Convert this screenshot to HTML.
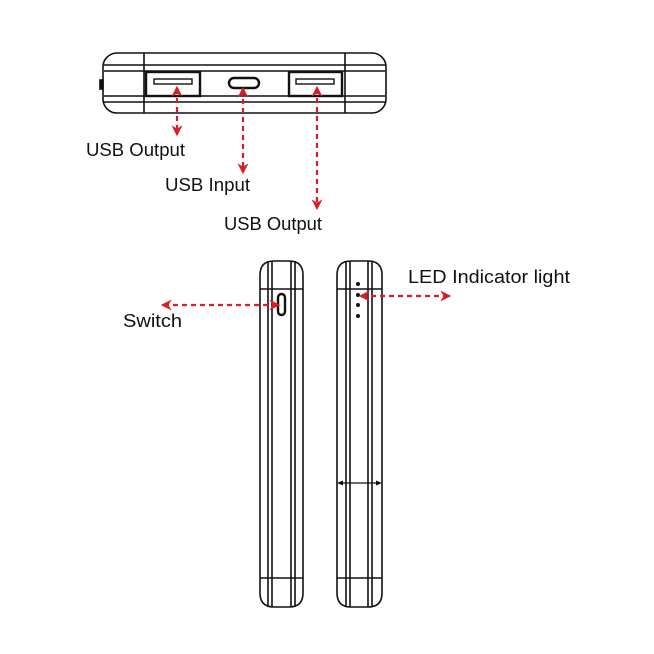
<!DOCTYPE html>
<html><head><style>body{margin:0;background:#fff}svg{display:block}</style></head>
<body>
<svg width="654" height="654" viewBox="0 0 654 654" xmlns="http://www.w3.org/2000/svg">
<defs>
<marker id="ah" viewBox="0 0 10 10" refX="7" refY="5" markerWidth="5" markerHeight="5" orient="auto-start-reverse">
<path d="M0,0 L10,5 L0,10 L3,5 z" fill="#d61f26"/></marker>
</defs>
<g fill="none" stroke="#111" stroke-width="1.6">
<rect x="103" y="53" width="283" height="60" rx="14"/>
<line x1="144" y1="53" x2="144" y2="113"/><line x1="345" y1="53" x2="345" y2="113"/>
<line x1="104" y1="65" x2="385" y2="65"/><line x1="104" y1="71" x2="385" y2="71"/>
<line x1="104" y1="96" x2="385" y2="96"/><line x1="104" y1="102" x2="385" y2="102"/>
<rect x="146" y="72" width="54" height="24" stroke-width="2.4"/>
<rect x="154" y="79" width="38" height="5" stroke-width="1.4"/>
<rect x="289" y="72" width="53" height="24" stroke-width="2.4"/>
<rect x="296" y="79" width="38" height="5" stroke-width="1.4"/>
<rect x="229" y="78" width="30" height="10" rx="5" stroke-width="2.4"/>
<rect x="100" y="80" width="3" height="9" fill="#111"/>
<path d="M260,593 L260,275 Q260,261 274,261 L289,261 Q303,261 303,275 L303,593 Q303,607 289,607 L274,607 Q260,607 260,593 Z"/>
<line x1="268" y1="261" x2="268" y2="607"/><line x1="272" y1="261" x2="272" y2="607"/>
<line x1="291" y1="261" x2="291" y2="607"/><line x1="295" y1="261" x2="295" y2="607"/>
<line x1="260" y1="289" x2="303" y2="289"/><line x1="260" y1="578" x2="303" y2="578"/>
<rect x="278" y="294" width="7" height="21" rx="3.5" stroke-width="2.4"/>
<path d="M337,593 L337,275 Q337,261 351,261 L368,261 Q382,261 382,275 L382,593 Q382,607 368,607 L351,607 Q337,607 337,593 Z"/>
<line x1="346" y1="261" x2="346" y2="607"/><line x1="350" y1="261" x2="350" y2="607"/>
<line x1="368" y1="261" x2="368" y2="607"/><line x1="372" y1="261" x2="372" y2="607"/>
<line x1="337" y1="289" x2="382" y2="289"/><line x1="337" y1="578" x2="382" y2="578"/>
<line x1="339" y1="483" x2="380" y2="483" stroke-width="1.2"/>
</g>
<path d="M337,483 l6,-2.5 v5z M382,483 l-6,-2.5 v5z" fill="#111"/>
<g fill="#111"><circle cx="358" cy="284" r="2"/><circle cx="358" cy="295" r="2"/><circle cx="358" cy="305" r="2"/><circle cx="358" cy="316" r="2"/></g>
<g stroke="#d61f26" stroke-width="2.2" stroke-dasharray="5,4" fill="none">
<line x1="177" y1="89" x2="177" y2="133" marker-start="url(#ah)" marker-end="url(#ah)"/>
<line x1="243" y1="90" x2="243" y2="171" marker-start="url(#ah)" marker-end="url(#ah)"/>
<line x1="317" y1="89" x2="317" y2="207" marker-start="url(#ah)" marker-end="url(#ah)"/>
<line x1="164" y1="305" x2="277" y2="305" marker-start="url(#ah)" marker-end="url(#ah)"/>
<line x1="362" y1="296" x2="448" y2="296" marker-start="url(#ah)" marker-end="url(#ah)"/>
</g>
<g font-family="Liberation Sans, sans-serif" font-size="18.5" fill="#111">
<text x="86" y="156" textLength="99" lengthAdjust="spacingAndGlyphs">USB Output</text>
<text x="165" y="191" textLength="85" lengthAdjust="spacingAndGlyphs">USB Input</text>
<text x="224" y="230" textLength="98" lengthAdjust="spacingAndGlyphs">USB Output</text>
<text x="123" y="327" textLength="59" lengthAdjust="spacingAndGlyphs">Switch</text>
<text x="408" y="283" textLength="162" lengthAdjust="spacingAndGlyphs">LED Indicator light</text>
</g>
</svg>
</body></html>
